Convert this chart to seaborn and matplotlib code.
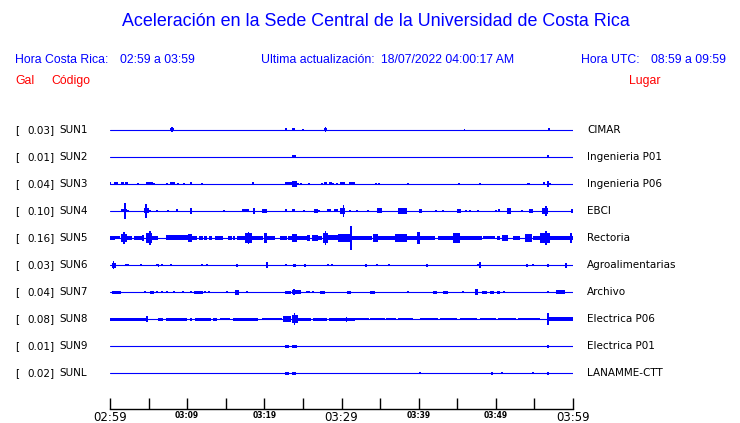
import numpy as np
import pandas as pd
import seaborn as sns
import matplotlib.pyplot as plt
from matplotlib.transforms import blended_transform_factory

# station table
gal = [0.03, 0.01, 0.04, 0.10, 0.16, 0.03, 0.04, 0.08, 0.01, 0.02]
codes = ['SUN1', 'SUN2', 'SUN3', 'SUN4', 'SUN5', 'SUN6', 'SUN7', 'SUN8', 'SUN9', 'SUNL']
places = ['CIMAR', 'Ingenieria P01', 'Ingenieria P06', 'EBCI', 'Rectoria',
          'Agroalimentarias', 'Archivo', 'Electrica P06', 'Electrica P01', 'LANAMME-CTT']
tick_labels = ['02:59', '03:09', '03:19', '03:29', '03:39', '03:49', '03:59']

# bursts: (start min, end min, half amplitude) , minutes after 02:59
sun1 = [(7.8, 8.3, 1.5), (7.95, 8.15, 2.5), (22.68, 22.94, 1.5), (23.59, 23.97, 1.5), (25.01, 25.01, 1),
        (27.73, 28.12, 1.5), (27.85, 28.0, 2.5), (45.88, 45.88, 1), (56.76, 57.02, 1.5)]
sun2 = [(23.59, 24.10, 1.5), (56.76, 56.76, 1.5)]
sun3 = [(0, 0, 1.5), (0.52, 1.04, 1.5), (1.43, 1.81, 1.5), (1.94, 2.33, 1.5), (3.63, 3.63, 1), (4.67, 5.57, 1.5),
        (5.70, 5.70, 1), (7.39, 7.39, 1), (7.78, 8.42, 1.5), (8.81, 8.81, 1), (9.59, 9.59, 1), (10.37, 10.63, 1.5),
        (11.92, 11.92, 1), (18.40, 18.66, 1.5), (22.68, 23.59, 1.5), (23.59, 24.23, 3), (24.36, 24.36, 1),
        (24.75, 24.75, 1), (25.79, 25.79, 1), (27.47, 27.47, 1), (27.73, 28.12, 1.5), (28.38, 28.77, 1.5),
        (28.90, 28.90, 1), (29.42, 29.42, 1), (29.81, 30.45, 1.5), (30.97, 31.75, 1.5), (34.47, 34.47, 1),
        (34.86, 34.86, 1), (38.62, 38.62, 1), (45.23, 45.23, 1), (47.95, 47.95, 1), (54.17, 54.17, 1),
        (54.30, 54.30, 1), (56.11, 56.37, 1.5), (56.76, 56.76, 3), (57.02, 57.02, 1)]
sun4 = [(1.43, 2.20, 1.5), (1.94, 1.94, 8), (2.33, 2.33, 1), (4.41, 5.05, 2.5), (4.67, 4.67, 7), (5.18, 5.18, 1),
        (6.09, 6.09, 1), (7.52, 7.52, 1), (8.68, 8.68, 1.5), (10.50, 10.50, 3), (14.77, 14.77, 1),
        (17.11, 18.01, 1.5), (18.66, 18.66, 3), (19.70, 20.35, 2), (22.81, 22.81, 1.5), (23.59, 23.97, 1.5),
        (25.14, 25.14, 1), (26.44, 26.95, 2), (27.08, 27.08, 1), (28.12, 28.64, 1.5), (29.03, 29.55, 1.5),
        (29.81, 30.45, 3), (30.20, 30.20, 6), (31.10, 31.10, 1), (32.01, 32.01, 1), (33.43, 33.43, 1),
        (34.60, 35.25, 2.5), (37.32, 38.49, 3), (40.04, 40.43, 2), (42.25, 42.25, 1), (43.15, 43.15, 1),
        (44.97, 45.49, 2), (46.13, 46.13, 1), (46.65, 46.65, 1), (47.69, 47.69, 1), (50.02, 50.02, 1),
        (50.41, 50.41, 1.5), (51.45, 51.97, 3), (53.39, 53.39, 1), (54.30, 54.82, 2), (55.98, 56.76, 3),
        (56.50, 56.50, 5), (59.74, 60, 2)]
sun5 = [(0, 0.65, 2), (0.65, 1.30, 1.5), (1.43, 2.20, 4), (1.81, 1.81, 6), (2.20, 2.85, 2), (3.11, 4.15, 2),
        (4.15, 4.41, 3), (4.67, 5.44, 5), (5.18, 5.18, 7), (5.44, 5.96, 2), (6.09, 6.09, 2), (7.26, 10.11, 2.5),
        (10.11, 10.63, 4), (10.63, 11.27, 2), (11.53, 12.05, 2), (12.18, 12.57, 2), (12.83, 13.22, 2),
        (13.61, 14.64, 2), (15.29, 15.81, 2), (15.94, 16.20, 2), (16.46, 17.49, 2), (17.49, 18.40, 5),
        (17.9, 17.9, 6), (18.40, 19.83, 2), (19.96, 20.35, 5), (20.35, 21.38, 2), (22.03, 22.94, 2),
        (23.07, 23.59, 2), (23.59, 24.23, 4), (24.23, 25.53, 2), (25.53, 25.92, 3), (26.18, 26.95, 3),
        (26.95, 27.47, 2), (27.60, 28.25, 5), (27.9, 27.9, 7), (28.25, 29.55, 2.5), (29.55, 30.45, 4),
        (30.45, 31.36, 4), (31.23, 31.23, 12), (31.36, 33.95, 2), (34.08, 34.73, 4), (34.73, 36.93, 2),
        (36.93, 38.49, 4), (38.49, 39.79, 2), (39.79, 40.17, 6), (40.17, 42.12, 2), (42.51, 44.45, 2),
        (44.45, 45.36, 5), (45.36, 48.21, 2), (48.34, 49.89, 1.5), (50.15, 50.54, 2), (50.80, 51.58, 3),
        (52.22, 53.13, 2), (53.78, 54.69, 4), (54.82, 55.72, 2), (55.72, 57.02, 5), (56.5, 56.5, 7),
        (57.02, 59.61, 2), (59.74, 59.74, 5), (59.61, 60, 2)]
sun6 = [(0.26, 0.78, 2.5), (0.5, 0.5, 4), (2.07, 2.07, 1), (2.33, 2.33, 1), (4.02, 4.02, 1), (6.09, 6.09, 1),
        (6.22, 6.35, 1.5), (6.74, 6.74, 1), (7.90, 7.90, 0.7), (11.92, 11.92, 1), (12.57, 12.57, 1),
        (16.46, 16.46, 1.5), (20.35, 20.35, 3), (22.81, 22.81, 1), (23.71, 24.10, 1.5), (25.27, 25.27, 1.5),
        (28.25, 28.25, 1), (28.77, 28.77, 1), (33.18, 33.18, 1.5), (34.60, 34.60, 1), (36.16, 36.16, 0.7),
        (40.95, 41.21, 1.5), (47.69, 47.69, 1), (47.95, 47.95, 3), (54.04, 54.04, 1.5), (54.82, 54.82, 1),
        (56.76, 56.76, 1.5), (59.09, 59.09, 2.5)]
sun7 = [(0.26, 1.43, 1.5), (4.54, 4.54, 1), (5.18, 5.70, 1.5), (6.09, 6.09, 1), (6.74, 6.74, 1), (7.39, 7.39, 1),
        (8.29, 8.29, 0.7), (9.46, 9.46, 1), (10.50, 10.50, 1), (10.89, 12.05, 1.5), (12.31, 12.31, 1),
        (12.83, 12.83, 1), (15.16, 15.16, 1), (16.20, 16.72, 2.5), (17.75, 17.75, 1), (22.68, 23.46, 1.5),
        (23.59, 24.75, 2), (23.84, 23.84, 3), (25.53, 25.53, 1), (25.79, 25.79, 1), (26.31, 26.31, 1),
        (27.21, 27.86, 1.5), (30.71, 31.23, 1.5), (33.69, 34.34, 1.5), (38.62, 38.62, 1), (41.86, 42.38, 1.5),
        (43.15, 43.80, 1.5), (45.75, 45.75, 0.7), (47.30, 47.69, 3), (48.21, 48.86, 1.5), (49.24, 49.76, 1.5),
        (50.15, 50.54, 1.5), (51.06, 51.06, 1), (56.76, 56.76, 1), (57.80, 58.96, 2)]
sun8 = [(0, 4.92, 1.5), (4.79, 4.79, 3), (6.22, 6.87, 1.5), (7.26, 9.98, 1.5), (10.37, 10.63, 1.5),
        (11.02, 13.09, 1.5), (13.3, 13.9, 1.5), (14.2, 15.5, 1), (15.9, 19.18, 1.5), (19.70, 22.29, 1.2),
        (22.42, 23.46, 3), (23.59, 24.36, 4), (23.9, 23.9, 6), (24.36, 26.0, 1.5), (26.3, 28.1, 1.5),
        (28.4, 30.45, 1.5), (29.81, 31.75, 1.5), (30.7, 30.7, 2.5), (31.75, 33.5, 1.2), (33.7, 35.6, 1.2),
        (35.8, 37.0, 1.2), (37.3, 39.27, 1.2), (40.17, 42.5, 1.2), (42.8, 45.0, 1.2), (45.3, 47.6, 1.2),
        (47.9, 50.0, 1.2), (50.3, 52.6, 1.2), (52.9, 55.72, 1.2), (56.76, 56.76, 6), (56.89, 60, 2)]
sun9 = [(22.68, 23.20, 1.5), (23.59, 24.23, 1.5), (56.76, 56.76, 1.5)]
sunl = [(22.68, 23.20, 1.5), (23.59, 24.10, 1.5), (40.17, 40.17, 0.7), (49.50, 49.50, 1.5), (50.80, 50.80, 0.7),
        (54.82, 54.82, 1), (56.76, 56.76, 1.5)]
bursts = [sun1, sun2, sun3, sun4, sun5, sun6, sun7, sun8, sun9, sunl]

sns.set_theme(style='white')
plt.rcParams['font.family'] = ['DejaVu Sans']

W, H = 740, 423
fig = plt.figure(figsize=(W / 100, H / 100), dpi=100)
ax = fig.add_axes([110 / W, 1 - 409 / H, 463 / W, (409 - 115) / H])

# flat trace lines
base = pd.DataFrame({'t': [0, 60] * len(codes),
                     'row': np.repeat(np.arange(len(codes)), 2),
                     'code': np.repeat(codes, 2)})
sns.lineplot(data=base, x='t', y='row', units='code', estimator=None,
             color='blue', lw=0.8, ax=ax)

ROW_PX = 27.0
for i, ev in enumerate(bursts):
    ev = np.array(ev, dtype=float)
    w = np.maximum(ev[:, 1] - ev[:, 0], 0.14)
    c = (ev[:, 0] + ev[:, 1]) / 2
    h = ev[:, 2] / ROW_PX
    ax.bar(c, 2 * h, width=w, bottom=i - h, color='blue', linewidth=0)

ax.set_xlim(0, 60)
ax.set_ylim((409 - 130) / ROW_PX, -(130 - 115) / ROW_PX)
ax.set_yticks([])
ax.set_xlabel('')
ax.set_ylabel('')
for s in ['top', 'left', 'right']:
    ax.spines[s].set_visible(False)
ax.spines['bottom'].set_color('black')
ax.spines['bottom'].set_linewidth(1)

ticks = np.arange(0, 61, 5)
ax.set_xticks(ticks)
ax.set_xticklabels([tick_labels[k // 2] if k % 2 == 0 else '' for k in range(len(ticks))])
ax.tick_params(axis='x', direction='in', length=8, width=1, color='black', pad=1.5, bottom=True)
for k, lbl in enumerate(ax.get_xticklabels()):
    if k in (0, 6, 12):
        lbl.set_fontsize(8.5)
    else:
        lbl.set_fontsize(5.5)
        lbl.set_fontweight('bold')
    lbl.set_color('black')

# station labels
tr = blended_transform_factory(fig.transFigure, ax.transData)
for i in range(len(codes)):
    ax.text(15 / W, i, '[', transform=tr, ha='left', va='center', fontsize=7.5, color='black')
    ax.text(55 / W, i, f'{gal[i]:.2f}]', transform=tr, ha='right', va='center', fontsize=7.5, color='black')
    ax.text(59 / W, i, codes[i], transform=tr, ha='left', va='center', fontsize=7.5, color='black')
    ax.text(587 / W, i, places[i], transform=tr, ha='left', va='center', fontsize=7.5, color='black')

# header
hf = 'Liberation Sans'
fig.text(376 / W, 1 - 22 / H, 'Aceleración en la Sede Central de la Universidad de Costa Rica',
         ha='center', va='center', fontsize=12.9, color='blue', family=hf)
fig.text(15 / W, 1 - 60 / H, 'Hora Costa Rica:', ha='left', va='center', fontsize=8.8, color='blue', family=hf)
fig.text(120 / W, 1 - 60 / H, '02:59 a 03:59', ha='left', va='center', fontsize=8.8, color='blue', family=hf)
fig.text(261 / W, 1 - 60 / H, 'Ultima actualización:', ha='left', va='center', fontsize=8.8, color='blue', family=hf)
fig.text(381 / W, 1 - 60 / H, '18/07/2022 04:00:17 AM', ha='left', va='center', fontsize=8.8, color='blue', family=hf)
fig.text(581 / W, 1 - 60 / H, 'Hora UTC:', ha='left', va='center', fontsize=8.8, color='blue', family=hf)
fig.text(651 / W, 1 - 60 / H, '08:59 a 09:59', ha='left', va='center', fontsize=8.8, color='blue', family=hf)
fig.text(15 / W, 1 - 81 / H, 'Gal', ha='left', va='center', fontsize=8.8, color='red', family=hf)
fig.text(51 / W, 1 - 81 / H, 'Código', ha='left', va='center', fontsize=8.8, color='red', family=hf)
fig.text(629 / W, 1 - 81 / H, 'Lugar', ha='left', va='center', fontsize=8.8, color='red', family=hf)

fig.savefig('out.png', dpi=100, facecolor='white')
